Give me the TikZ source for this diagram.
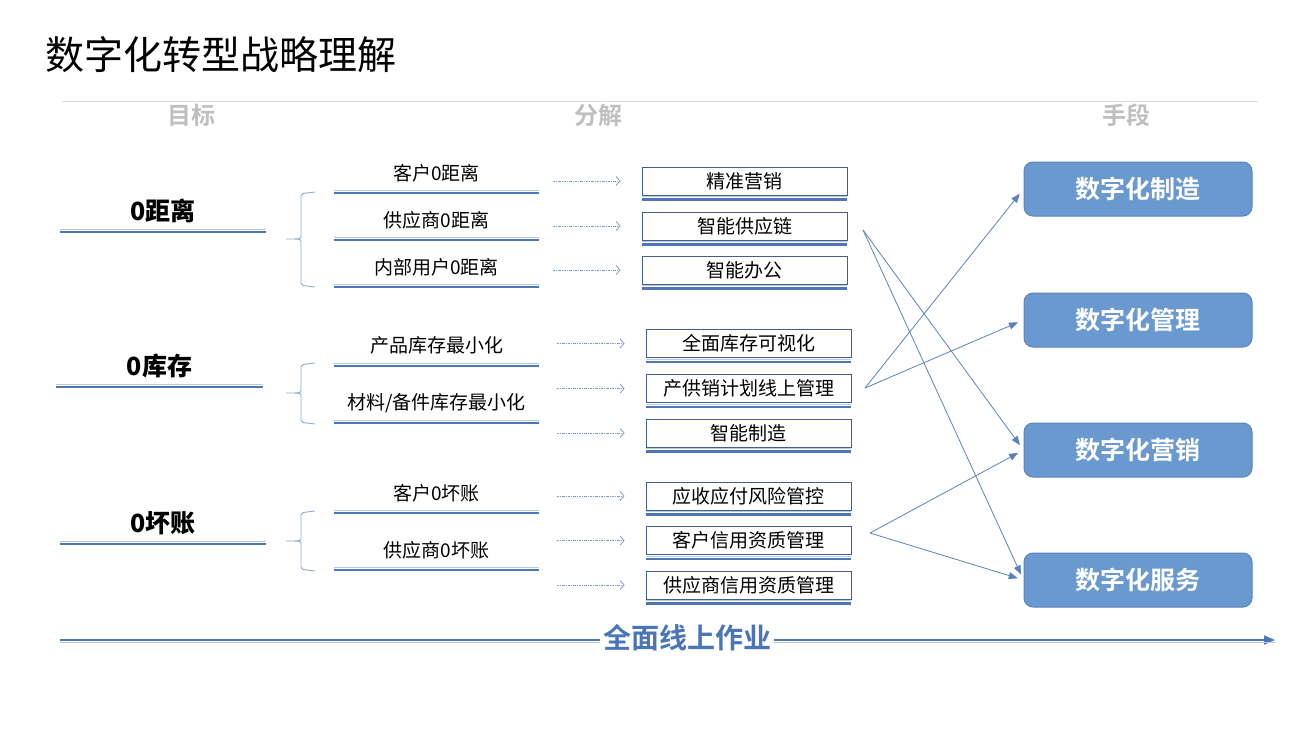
\documentclass[tikz,border=0pt]{standalone}
\usepackage{fontspec}
\setmainfont{Noto Sans CJK SC}[BoldFont={Noto Sans CJK SC Bold}]
\newfontfamily\heavyfont{Noto Sans CJK SC Black}
\usetikzlibrary{arrows.meta}

\definecolor{lineblue}{HTML}{4F76B4}
\definecolor{linelight}{HTML}{B8C9E2}
\definecolor{boxdraw}{HTML}{41608F}
\definecolor{meansfill}{HTML}{6A99CF}
\definecolor{meansdraw}{HTML}{5A84BC}
\definecolor{arrowblue}{HTML}{5B82BA}
\definecolor{dotblue}{HTML}{7C9DCC}
\definecolor{braceblue}{HTML}{8EAAD3}
\definecolor{headgray}{HTML}{BFBFBF}
\definecolor{rulegray}{HTML}{D9D9D9}
\definecolor{opblue}{HTML}{4A75B8}

\begin{document}
\begin{tikzpicture}[x=1pt,y=-1pt,
        every node/.style={inner sep=0pt},
        hd/.style={font=\fontsize{24}{28}\selectfont\bfseries,text=headgray},
        goal/.style={font=\fontsize{25}{30}\selectfont\heavyfont,minimum width=206pt,minimum height=42pt,anchor=south},
        sub/.style={font=\fontsize{19}{23}\selectfont,minimum width=205pt,minimum height=40pt,anchor=south},
        box/.style={draw=boxdraw,fill=white,line width=0.8pt,font=\fontsize{19}{23}\selectfont,minimum width=205pt,minimum height=28pt},
        means/.style={draw=meansdraw,fill=meansfill,line width=1pt,rounded corners=9pt,text=white,
                      font=\fontsize{25}{30}\selectfont\bfseries,minimum width=228pt,minimum height=54pt},
        uline/.style={draw=lineblue,line width=2.2pt,postaction={draw=linelight,line width=1.2pt,transform canvas={yshift=2.8pt}}},
        opline/.style={draw=lineblue,line width=1.8pt,postaction={draw=linelight,-,line width=1pt,transform canvas={yshift=-2.8pt}}},
        hint/.style={draw=dotblue,line width=0.8pt,dash pattern=on 2.5pt off 1.2pt on 0.6pt off 1.2pt,-{Straight Barb[length=4pt,width=9pt]}},
        link/.style={draw=arrowblue,line width=0.8pt,-{Triangle[length=9pt,width=7pt]},shorten >=6pt},
        grp/.style={draw=braceblue,line width=0.9pt}]

    \useasboundingbox (0,0) rectangle (1307,739);

    \node[anchor=west,font=\fontsize{39}{44}\selectfont] (title) at (45,55) {数字化转型战略理解};
    \draw[rulegray,line width=0.8pt] (62,101) -- (1258,101);
    \node[hd] (hdgoal) at (191,115) {目标};
    \node[hd] (hdsplit) at (598,115) {分解};
    \node[hd] (hdmeans) at (1126,115) {手段};

    % goals
    \node[goal] (g1) at (163,232) {0距离};
    \node[goal] (g2) at (159.5,387) {0库存};
    \node[goal] (g3) at (163,544) {0坏账};

    % split
    \node[sub] (s11) at (436.5,193) {客户0距离};
    \node[sub] (s12) at (436.5,240) {供应商0距离};
    \node[sub] (s13) at (436.5,287) {内部用户0距离};
    \node[sub] (s21) at (436.5,366) {产品库存最小化};
    \node[sub] (s22) at (436.5,423) {材料/备件库存最小化};
    \node[sub] (s31) at (436.5,513) {客户0坏账};
    \node[sub] (s32) at (436.5,570) {供应商0坏账};

    \node[box] (b11) at (744.5,181) {精准营销};
    \node[box] (b12) at (744.5,226) {智能供应链};
    \node[box] (b13) at (744.5,270) {智能办公};
    \node[box] (b21) at (748.5,343.5) {全面库存可视化};
    \node[box] (b22) at (748.5,388.5) {产供销计划线上管理};
    \node[box] (b23) at (748.5,433) {智能制造};
    \node[box] (b31) at (748.5,496) {应收应付风险管控};
    \node[box] (b32) at (748.5,540.5) {客户信用资质管理};
    \node[box] (b33) at (748.5,585) {供应商信用资质管理};

    % means
    \node[means] (m1) at (1138,189) {数字化制造};
    \node[means] (m2) at (1138,320) {数字化管理};
    \node[means] (m3) at (1138,450) {数字化营销};
    \node[means] (m4) at (1138,580) {数字化服务};

    \foreach \n in {g1,g2,g3,s11,s12,s13,s21,s22,s31,s32}
        \draw[uline] (\n.south west) -- (\n.south east);
    \foreach \n in {b11,b12,b13,b21,b22,b23,b31,b32,b33} {
        \draw[uline] ([yshift=-4pt]\n.south west) -- ([yshift=-4pt]\n.south east);
        \draw[hint] ([xshift=-89pt]\n.west) -- ([xshift=-21pt]\n.west);
    }

    \foreach \t/\m/\b in {192/239/287,363/393/424,511/541/571}
        \draw[grp] (315,\t) -- (303,\t+1.5) -- (301,\t+4) -- (301,\m-3)
            .. controls (301,\m) .. (286,\m) .. controls (301,\m) .. (301,\m+3)
            -- (301,\b-4) -- (303,\b-1.5) -- (315,\b);

    \coordinate (f1) at (863,230);
    \coordinate (f2) at (865,388);
    \coordinate (f3) at (870,533);
    \draw[link] (f1) -- (m3.west);
    \draw[link] (f1) -- (m4.west);
    \draw[link] (f2) -- (m1.west);
    \draw[link] (f2) -- (m2.west);
    \draw[link] (f3) -- (m3.west);
    \draw[link] (f3) -- (m4.west);

    \node[inner sep=3pt,text=opblue,font=\fontsize{28}{32}\selectfont\bfseries] (op) at (687,638) {全面线上作业};
    \coordinate (opstart) at (60,640);
    \coordinate (opend) at (1275,640);
    \draw[opline] (opstart) -- (opstart -| op.west);
    \draw[opline,-{Triangle[length=11pt,width=9pt]}] (opend -| op.east) -- (opend);
\end{tikzpicture}
\end{document}
